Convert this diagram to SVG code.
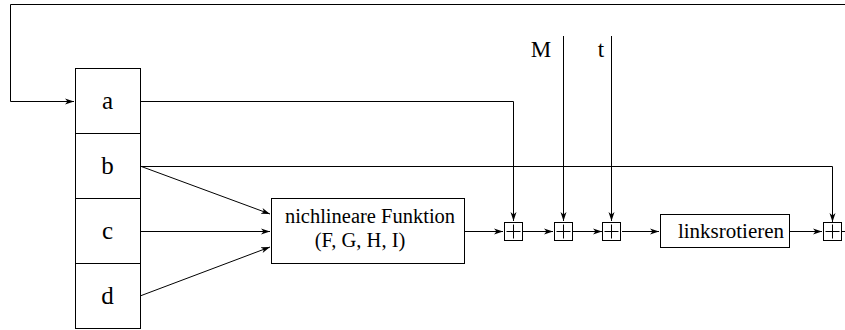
<svg xmlns="http://www.w3.org/2000/svg" width="845" height="330" viewBox="0 0 845 330">
<defs>
<marker id="ah" markerUnits="userSpaceOnUse" markerWidth="10" markerHeight="8" refX="9" refY="3.5" orient="auto">
<path d="M0,0.5 L9,3.5 L0,6.5 L2.5,3.5 z" fill="#000"/>
</marker>
</defs>
<style>
.ln{fill:none;stroke:#000;stroke-width:1}
.bx{fill:#fff;stroke:#000;stroke-width:1}
.t{font-family:"Liberation Serif","Times New Roman",serif;fill:#000;text-anchor:middle}
.big{font-size:25px}
.mid{font-size:21px}
.lab{font-size:23px}
.fn{font-size:20.5px}
</style>
<g id="connectors">
<polyline class="ln" points="845,4.5 10.5,4.5 10.5,101.5 74,101.5" marker-end="url(#ah)"/>
<polyline class="ln" points="140,101.5 513.5,101.5 513.5,221" marker-end="url(#ah)"/>
<polyline class="ln" points="140,166.5 832.5,166.5 832.5,222" marker-end="url(#ah)"/>
<line class="ln" x1="140" y1="166" x2="270" y2="214" marker-end="url(#ah)"/>
<line class="ln" x1="140" y1="231.5" x2="270" y2="231.5" marker-end="url(#ah)"/>
<line class="ln" x1="140" y1="296" x2="270" y2="247" marker-end="url(#ah)"/>
<line class="ln" x1="465" y1="231.5" x2="503" y2="231.5" marker-end="url(#ah)"/>
<line class="ln" x1="523" y1="231.5" x2="553" y2="231.5" marker-end="url(#ah)"/>
<line class="ln" x1="573" y1="231.5" x2="602" y2="231.5" marker-end="url(#ah)"/>
<line class="ln" x1="622" y1="231.5" x2="659" y2="231.5" marker-end="url(#ah)"/>
<line class="ln" x1="790" y1="231.5" x2="822" y2="231.5" marker-end="url(#ah)"/>
<line class="ln" x1="842" y1="231.5" x2="845" y2="231.5"/>
<line class="ln" x1="563.5" y1="36" x2="563.5" y2="221" marker-end="url(#ah)"/>
<line class="ln" x1="611.5" y1="36" x2="611.5" y2="221" marker-end="url(#ah)"/>
</g>
<g id="register">
<rect class="bx" x="75.5" y="68.5" width="65" height="260"/>
<line class="ln" x1="75.5" y1="133.5" x2="140.5" y2="133.5"/>
<line class="ln" x1="75.5" y1="198.5" x2="140.5" y2="198.5"/>
<line class="ln" x1="75.5" y1="263.5" x2="140.5" y2="263.5"/>
</g>
<g id="reg-a"><text class="t big" x="107.5" y="109">a</text></g>
<g id="reg-b"><text class="t big" x="107.5" y="174">b</text></g>
<g id="reg-c"><text class="t big" x="107.5" y="239">c</text></g>
<g id="reg-d"><text class="t big" x="107.5" y="304">d</text></g>
<g id="func">
<rect class="bx" x="271.5" y="198.5" width="193" height="65"/>
<text class="t fn" x="370" y="223">nichlineare Funktion</text>
<text class="t fn" x="360" y="247">(F, G, H, I)</text>
</g>
<g id="label-M"><text class="t lab" x="541" y="57">M</text></g>
<g id="label-t"><text class="t lab" x="601" y="57">t</text></g>
<g id="add1">
<rect class="bx" x="504.5" y="222.5" width="18" height="18"/>
<path class="ln" d="M513.5,224.5 V238.5 M506.5,231.5 H520.5"/>
</g>
<g id="add2">
<rect class="bx" x="554.5" y="222.5" width="18" height="18"/>
<path class="ln" d="M563.5,224.5 V238.5 M556.5,231.5 H570.5"/>
</g>
<g id="add3">
<rect class="bx" x="602.5" y="222.5" width="18" height="18"/>
<path class="ln" d="M611.5,224.5 V238.5 M604.5,231.5 H618.5"/>
</g>
<g id="rot">
<rect class="bx" x="660.5" y="214.5" width="129" height="33"/>
<text class="t mid" x="731" y="238">linksrotieren</text>
</g>
<g id="add4">
<rect class="bx" x="823.5" y="222.5" width="18" height="18"/>
<path class="ln" d="M832.5,224.5 V238.5 M825.5,231.5 H839.5"/>
</g>
</svg>
